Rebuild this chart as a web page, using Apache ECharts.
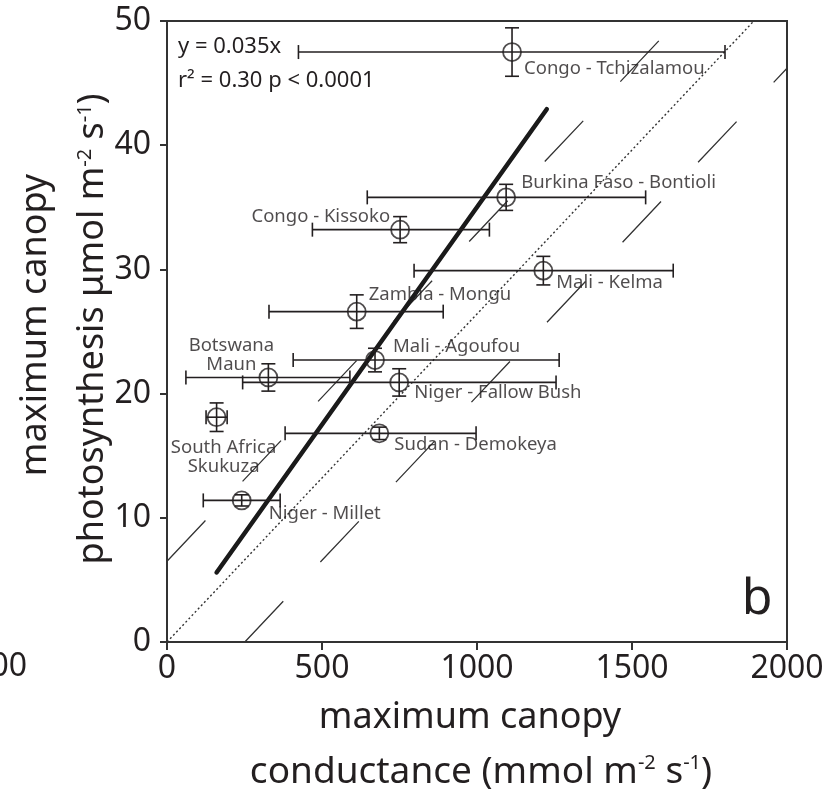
<!DOCTYPE html>
<html><head><meta charset="utf-8">
<script src="https://cdn.jsdelivr.net/npm/echarts@6/dist/echarts.min.js"></script>
<style>html,body{margin:0;padding:0;background:#fff}#c{width:837px;height:798px}</style>
</head><body><div id="c"></div>
<script>
// ---- data ----
const sites = ['Congo - Tchizalamou','Burkina Faso - Bontioli','Congo - Kissoko','Mali - Kelma','Zambia - Mongu','Mali - Agoufou','Botswana\nMaun','Niger - Fallow Bush','South Africa\nSkukuza','Sudan - Demokeya','Niger - Millet'];
const conductance = [1113, 1094, 752, 1214, 612, 671, 327, 749, 160, 685, 241];
const condLow     = [424, 646, 469, 797, 329, 407, 61, 244, 126, 381, 117];
const condHigh    = [1800, 1544, 1040, 1633, 891, 1265, 590, 1255, 194, 997, 365];
const photosynthesis = [47.5, 35.8, 33.2, 29.9, 26.6, 22.7, 21.3, 20.9, 18.1, 16.8, 11.4];
const photoErr       = [1.95, 1.05, 1.05, 1.15, 1.35, 0.95, 1.1, 1.1, 1.15, 0.5, 0.45];
const fitLine   = [[160, 5.6], [1225, 42.9]];
const oneToOne  = [[0, 0], [1893, 50]];
const upperBand = [[0, 6.5], [1647, 50]];
const lowerBand = [[251, 0], [2000, 46.2]];
const xTickInterval = 500, yTickInterval = 10;

// ---- label placement (style, not data) ----
const labelPlace = [[12,17,'left'],[15,-15,'left'],[-10,-13,'right'],[13,12,'left'],[12,-17,'left'],[18,-13,'left'],[-37,-22,'center'],[15,10,'left'],[7,40,'center'],[15,11,'left'],[27,13,'left']];

const INK = '#231f20';
const FONT = 'Noto Sans';

const pts = sites.map((s,i)=>({
  name: s,
  value: [conductance[i], photosynthesis[i]],
  label: {offset: [labelPlace[i][0], labelPlace[i][1]], align: labelPlace[i][2]}
}));
const errs = sites.map((s,i)=>[conductance[i], photosynthesis[i], condLow[i], condHigh[i], photosynthesis[i]-photoErr[i], photosynthesis[i]+photoErr[i]]);

const chart = echarts.init(document.getElementById('c'), null, {renderer:'canvas'});
const lineStyleBar = {stroke: INK, lineWidth: 1.6, fill: null};
chart.setOption({
  animation: false,
  backgroundColor: '#fff',
  grid: {left: 167, top: 21, right: 50, bottom: 156, show: true, borderColor: '#333', borderWidth: 2, backgroundColor: 'transparent'},
  xAxis: {type: 'value', min: 0, max: 2000, interval: xTickInterval,
    axisLine: {show: true, lineStyle: {color: '#333', width: 2}},
    axisTick: {show: true, inside: false, length: 8, lineStyle: {color: '#333', width: 2}},
    axisLabel: {fontFamily: FONT, fontSize: 32, color: INK, margin: 11, formatter: v => String(v)},
    splitLine: {show: false}},
  yAxis: {type: 'value', min: 0, max: 50, interval: yTickInterval,
    axisLine: {show: true, lineStyle: {color: '#333', width: 2}},
    axisTick: {show: true, inside: false, length: 7, lineStyle: {color: '#333', width: 2}},
    axisLabel: {fontFamily: FONT, fontSize: 32, color: INK, margin: 16, formatter: v => String(v)},
    splitLine: {show: false}},
  series: [
    {type: 'line', data: oneToOne, showSymbol: false, symbol: 'none', lineStyle: {color: '#333', width: 1.4, type: [2, 2.5]}, z: 2, silent: true},
    {type: 'line', data: upperBand, showSymbol: false, symbol: 'none', lineStyle: {color: '#333', width: 1.3, type: [56, 54]}, z: 2, silent: true},
    {type: 'line', data: lowerBand, showSymbol: false, symbol: 'none', lineStyle: {color: '#333', width: 1.3, type: [56, 54]}, z: 2, silent: true},
    {type: 'line', data: fitLine, showSymbol: false, symbol: 'none', lineStyle: {color: '#1a1a1a', width: 4.5, cap: 'round'}, z: 3, silent: true},
    {type: 'custom', data: errs, z: 4, silent: true,
      renderItem: function(params, api){
        const x = api.value(0), y = api.value(1);
        const pL = api.coord([api.value(2), y]), pH = api.coord([api.value(3), y]);
        const pB = api.coord([x, api.value(4)]), pT = api.coord([x, api.value(5)]);
        const c = 7;
        const L = (x1,y1,x2,y2)=>({type:'line', shape:{x1,y1,x2,y2}, style: lineStyleBar});
        return {type:'group', children: [
          L(pL[0],pL[1],pH[0],pH[1]),
          L(pL[0],pL[1]-c,pL[0],pL[1]+c),
          L(pH[0],pH[1]-c,pH[0],pH[1]+c),
          L(pB[0],pB[1],pT[0],pT[1]),
          L(pB[0]-c,pB[1],pB[0]+c,pB[1]),
          L(pT[0]-c,pT[1],pT[0]+c,pT[1])
        ]};
      }},
    {type: 'scatter', data: pts, symbol: 'circle', symbolSize: 18, z: 5,
      itemStyle: {color: 'rgba(255,255,255,0)', borderColor: INK, borderWidth: 1.8},
      label: {show: true, position: 'inside', verticalAlign: 'middle', formatter: '{b}', fontFamily: FONT, fontSize: 18.5, color: INK, lineHeight: 19}}
  ],
  graphic: [
    {type: 'text', x: 178, y: 47, style: {text: 'y = 0.035x', font: '22px "Noto Sans"', fill: INK, textAlign: 'left', textVerticalAlign: 'middle'}},
    {type: 'text', x: 178, y: 81, style: {text: 'r² = 0.30 p < 0.0001', font: '22px "Noto Sans"', fill: INK, textAlign: 'left', textVerticalAlign: 'middle'}},
    {type: 'text', x: 757, y: 600, style: {text: 'b', font: '50px "Noto Sans"', fill: INK, textAlign: 'center', textVerticalAlign: 'middle'}},
    {type: 'text', x: 27, y: 667, style: {text: '2000', font: '32px "Noto Sans"', fill: INK, textAlign: 'right', textVerticalAlign: 'middle'}},
    {type: 'text', x: 470, y: 718, style: {text: 'maximum canopy', font: '36px "Noto Sans"', fill: INK, textAlign: 'center', textVerticalAlign: 'middle'}},
    {type: 'text', x: 481, y: 772, style: {text: 'conductance (mmol m{s|-2} s{s|-1})', fontFamily: FONT, fontSize: 37, fill: INK, textAlign: 'center', textVerticalAlign: 'middle',
      rich: {s: {fontFamily: FONT, fontSize: 20, fill: INK, verticalAlign: 'top', lineHeight: 36}}}},
    {type: 'text', x: 36, y: 325, rotation: Math.PI/2, style: {text: 'maximum canopy', font: '36px "Noto Sans"', fill: INK, textAlign: 'center', textVerticalAlign: 'middle'}},
    {type: 'text', x: 93, y: 329, rotation: Math.PI/2, style: {text: 'photosynthesis μmol m{s|-2} s{s|-1})', fontFamily: FONT, fontSize: 36, fill: INK, textAlign: 'center', textVerticalAlign: 'middle',
      rich: {s: {fontFamily: FONT, fontSize: 20, fill: INK, verticalAlign: 'top', lineHeight: 36}}}}
  ]
});
</script></body></html>
